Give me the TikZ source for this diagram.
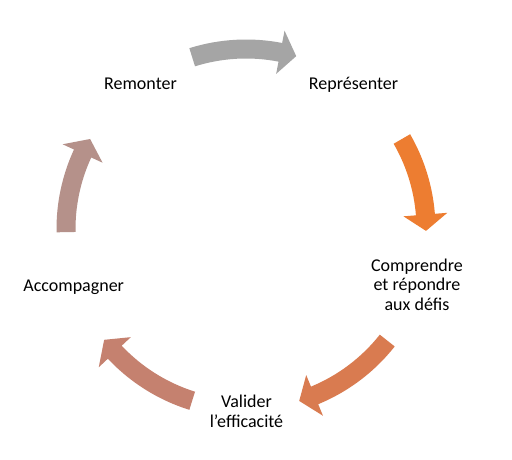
\documentclass[tikz,border=0pt]{standalone}
\usepackage{fontspec}
\setmainfont{Carlito}
\definecolor{arrGray}{HTML}{A5A5A5}
\definecolor{arrOrange}{HTML}{ED7D31}
\definecolor{arrCopper}{HTML}{D97B50}
\definecolor{arrRose}{HTML}{C5816F}
\definecolor{arrMauve}{HTML}{B5918A}
\newcommand{\cyclearrow}[3]{%
  \pgfmathsetmacro{\headang}{#3+5.2}%
  \fill[#1] (#2:189.5pt) arc[start angle=#2, end angle=\headang, radius=189.5pt]
    -- (\headang:202pt) -- (#3:180pt) -- (\headang:158pt) -- (\headang:170.5pt)
    arc[start angle=\headang, end angle=#2, radius=170.5pt] -- cycle;%
}
\tikzset{lbl/.style={anchor=base, inner sep=0pt, font=\fontsize{18}{19.5}\selectfont, text=black}}
\begin{document}
\begin{tikzpicture}
\fill[white] (0,0) rectangle (512pt,459pt);
\useasboundingbox (0,0) rectangle (512pt,459pt);
\begin{scope}[shift={(246pt,230pt)}]
  \cyclearrow{arrGray}{107.4}{73.8}
  \cyclearrow{arrOrange}{30}{-0.6}
  \cyclearrow{arrCopper}{-38.3}{-72.8}
  \cyclearrow{arrRose}{-107.4}{-142}
  \cyclearrow{arrMauve}{181}{150}
\end{scope}
\node[lbl] (remonter) at (140.5pt,369pt) {Remonter};
\node[lbl] (representer) at (353.5pt,369pt) {Représenter};
\node[lbl] (comprendre) at (417pt,188pt) {\begin{tabular}[t]{@{}c@{}}Comprendre\\et répondre\\aux défis\end{tabular}};
\node[lbl] (valider) at (246.5pt,51.3pt) {\begin{tabular}[t]{@{}c@{}}Valider\\l’efficacité\end{tabular}};
\node[lbl] (accompagner) at (73.7pt,167.5pt) {Accompagner};
\end{tikzpicture}
\end{document}
